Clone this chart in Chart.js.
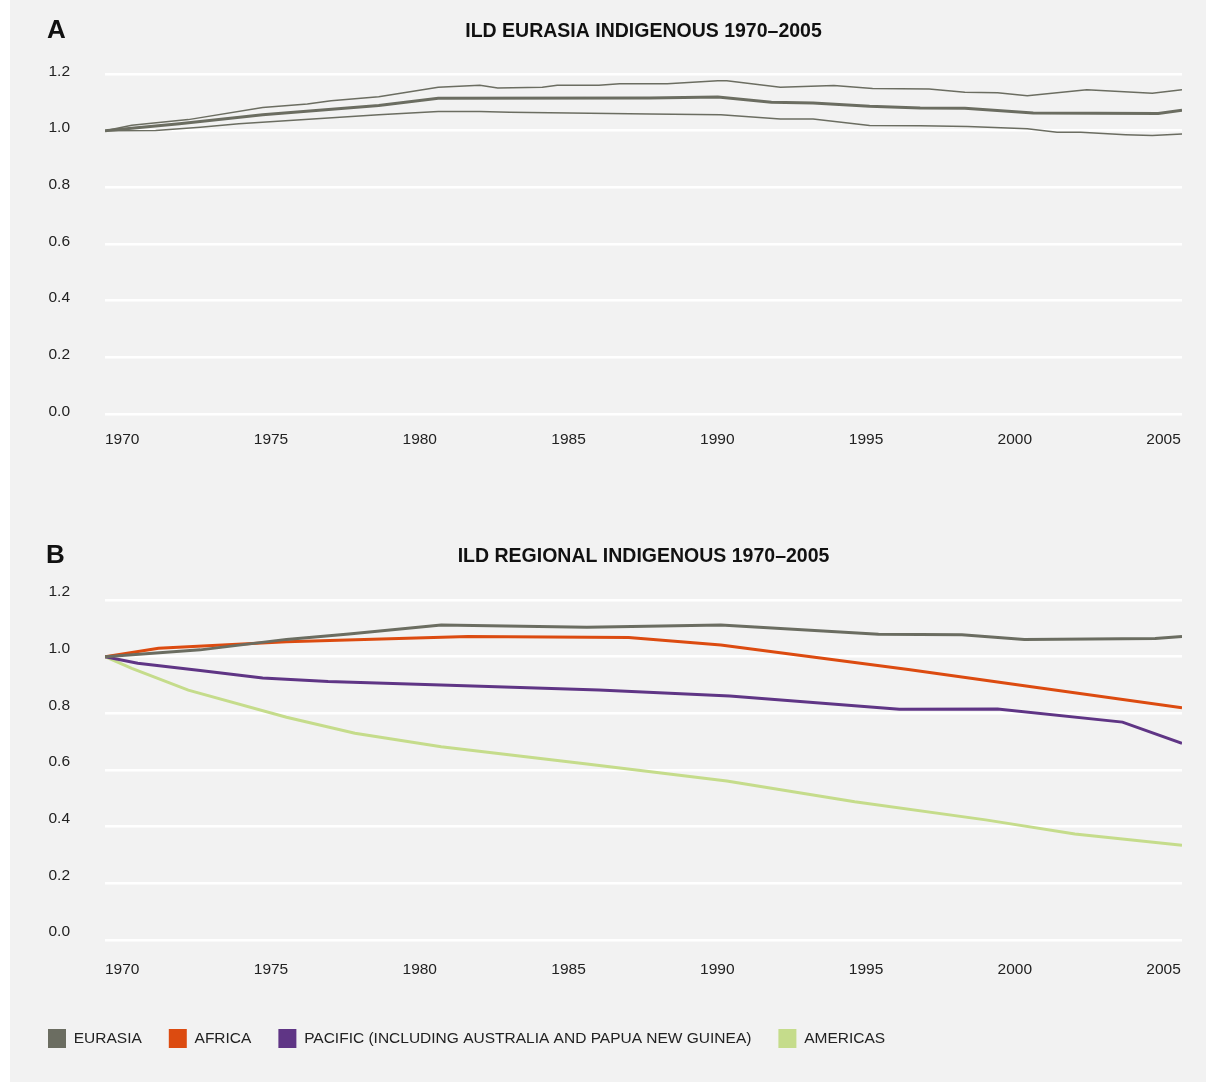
<!DOCTYPE html>
<html lang="en">
<head>
    <meta charset="UTF-8">
    <title>ILD Indigenous 1970–2005</title>
    <script src="https://cdn.jsdelivr.net/npm/chart.js@4.4.1/dist/chart.umd.min.js"></script>
    <style>
        body {
            margin: 0;
            background: #ffffff;
            font-family: "Liberation Sans", Arial, sans-serif;
        }
        #panel {
            position: absolute;
            left: 10px;
            top: 0;
            width: 1196px;
            height: 1082px;
            background: #f2f2f2;
        }
        .letter {
            position: absolute;
            font-size: 26px;
            font-weight: bold;
            line-height: 1;
            color: #111;
        }
        canvas {
            position: absolute;
            left: 0;
        }
    </style>
</head>
<body>
<div id="panel">
    <canvas id="chartA" width="1196" height="480" style="top:0"></canvas>
    <canvas id="chartB" width="1196" height="562" style="top:520px"></canvas>
    <div class="letter" style="left:37px; top:16px">A</div>
    <div class="letter" style="left:36px; top:541px">B</div>
</div>

<script>
    // Panel A: Eurasia index with upper / lower band
    const eurasiaMeanYears  = [1970, 1972.5, 1975.3, 1979.2, 1981.2, 1988.3, 1990.6, 1992.4, 1993.8, 1995.7, 1997.4, 1998.9, 2001.2, 2005.4, 2006.2];
    const eurasiaMeanValues = [1.0, 1.024, 1.056, 1.089, 1.114, 1.115, 1.119, 1.1, 1.098, 1.086, 1.08, 1.079, 1.062, 1.061, 1.072];

    const eurasiaUpperYears  = [1970, 1970.9, 1972.8, 1975.3, 1976.8, 1977.6, 1979.2, 1981.2, 1982.6, 1983.2, 1984.7, 1985.2, 1986.6, 1987.3, 1988.9, 1990.6, 1990.9, 1992.7, 1994.5, 1995.8, 1997.7, 1998.9, 2000.0, 2001.0, 2003.0, 2005.2, 2006.2];
    const eurasiaUpperValues = [1.0, 1.019, 1.039, 1.082, 1.094, 1.106, 1.12, 1.153, 1.16, 1.151, 1.153, 1.16, 1.16, 1.166, 1.166, 1.176, 1.176, 1.153, 1.159, 1.149, 1.147, 1.136, 1.134, 1.123, 1.144, 1.132, 1.144];

    const eurasiaLowerYears  = [1970, 1971.7, 1973.2, 1974.5, 1979.2, 1981.2, 1982.6, 1983.6, 1988.3, 1990.7, 1992.7, 1993.8, 1995.7, 1997.4, 1999.0, 2001.0, 2002.0, 2002.8, 2004.3, 2005.2, 2006.2];
    const eurasiaLowerValues = [1.0, 1.001, 1.012, 1.024, 1.056, 1.068, 1.068, 1.065, 1.059, 1.056, 1.041, 1.041, 1.018, 1.017, 1.015, 1.007, 0.994, 0.994, 0.986, 0.983, 0.988];

    // Panel B: regional indices
    const regionNames = ['EURASIA', 'AFRICA', 'PACIFIC (INCLUDING AUSTRALIA AND PAPUA NEW GUINEA)', 'AMERICAS'];
    const regionColors = ['#6b6d61', '#dc4b10', '#5f3585', '#c5dc8b'];

    const eurasiaYears  = [1970, 1973.2, 1976.1, 1978.2, 1981.3, 1986.2, 1990.7, 1996.0, 1998.8, 2000.9, 2005.3, 2006.2];
    const eurasiaValues = [1.0, 1.024, 1.061, 1.08, 1.112, 1.104, 1.112, 1.079, 1.077, 1.061, 1.064, 1.071];

    const africaYears  = [1970, 1971.8, 1976.1, 1982.2, 1987.6, 1990.7, 1997.0, 2000.9, 2006.2];
    const africaValues = [1.0, 1.03, 1.053, 1.071, 1.068, 1.041, 0.955, 0.897, 0.82];

    const pacificYears  = [1970, 1971.1, 1973.2, 1975.3, 1977.5, 1981.3, 1986.6, 1991.0, 1996.7, 2000.0, 2004.2, 2006.2];
    const pacificValues = [1.0, 0.977, 0.951, 0.925, 0.912, 0.9, 0.882, 0.861, 0.814, 0.815, 0.769, 0.694];

    const americasYears  = [1970, 1970.9, 1972.8, 1976.1, 1978.4, 1981.3, 1986.2, 1990.9, 1995.2, 1999.6, 2002.6, 2006.2];
    const americasValues = [1.0, 0.959, 0.882, 0.786, 0.73, 0.682, 0.621, 0.561, 0.488, 0.424, 0.374, 0.334];

    const yearTicks = [1970, 1975, 1980, 1985, 1990, 1995, 2000, 2005];

    Chart.defaults.font.family = '"Liberation Sans", Arial, sans-serif';
    Chart.defaults.color = '#222';

    function toPoints(years, values) {
        return years.map((yr, i) => ({ x: yr, y: values[i] }));
    }

    function lineSet(label, years, values, color, width) {
        return {
            label: label,
            data: toPoints(years, values),
            borderColor: color,
            backgroundColor: color,
            borderWidth: width,
            pointRadius: 0,
            tension: 0
        };
    }

    // shared layout for both panels
    function makeOptions(cfg) {
        return {
            responsive: false,
            animation: false,
            layout: {
                padding: { left: 11, right: 24, top: 0, bottom: cfg.bottomPad }
            },
            scales: {
                x: {
                    type: 'linear',
                    min: 1970,
                    max: 2006.2,
                    grid: { display: false },
                    border: { display: false },
                    afterBuildTicks: (scale) => {
                        scale.ticks = yearTicks.map(v => ({ value: v }));
                    },
                    afterFit: (scale) => { scale.height = cfg.xHeight; },
                    ticks: {
                        align: 'start',
                        padding: cfg.xPad,
                        maxRotation: 0,
                        font: { size: 15.5 },
                        callback: (v) => String(v)
                    }
                },
                y: {
                    min: 0,
                    max: 1.2,
                    grid: { color: '#ffffff', lineWidth: 2.5, drawTicks: false },
                    border: { display: false },
                    afterFit: (scale) => { scale.width = 84; },
                    ticks: {
                        stepSize: 0.2,
                        padding: 35,
                        labelOffset: cfg.yOffset,
                        font: { size: 15.5 },
                        callback: (v) => v.toFixed(1)
                    }
                }
            },
            plugins: {
                title: {
                    display: true,
                    text: cfg.title,
                    fullSize: false,
                    color: '#111',
                    font: { size: 19.5, weight: 'bold' },
                    padding: { top: cfg.titleTop, bottom: cfg.titleBottom }
                },
                legend: cfg.legend,
                tooltip: { enabled: false }
            }
        };
    }

    new Chart(document.getElementById('chartA'), {
        type: 'line',
        data: {
            datasets: [
                lineSet('Upper', eurasiaUpperYears, eurasiaUpperValues, regionColors[0], 1.5),
                lineSet('Lower', eurasiaLowerYears, eurasiaLowerValues, regionColors[0], 1.5),
                lineSet('Eurasia', eurasiaMeanYears, eurasiaMeanValues, regionColors[0], 3)
            ]
        },
        options: makeOptions({
            title: 'ILD EURASIA INDIGENOUS 1970–2005',
            titleTop: 20.3,
            titleBottom: 30.3,
            xHeight: 66,
            xPad: 8,
            yOffset: -2.5,
            bottomPad: 0,
            legend: { display: false }
        })
    });

    new Chart(document.getElementById('chartB'), {
        type: 'line',
        data: {
            datasets: [
                lineSet(regionNames[0], eurasiaYears, eurasiaValues, regionColors[0], 3),
                lineSet(regionNames[1], africaYears, africaValues, regionColors[1], 3),
                lineSet(regionNames[2], pacificYears, pacificValues, regionColors[2], 3),
                lineSet(regionNames[3], americasYears, americasValues, regionColors[3], 3)
            ]
        },
        options: makeOptions({
            title: 'ILD REGIONAL INDIGENOUS 1970–2005',
            titleTop: 25.3,
            titleBottom: 31.3,
            xHeight: 62,
            xPad: 12,
            yOffset: -8,
            bottomPad: 24,
            legend: {
                display: true,
                position: 'bottom',
                align: 'start',
                labels: {
                    boxWidth: 18,
                    boxHeight: 19,
                    padding: 27,
                    color: '#222',
                    font: { size: 15.5 },
                    generateLabels: (chart) => Chart.defaults.plugins.legend.labels.generateLabels(chart)
                        .map(item => Object.assign(item, { lineWidth: 0 }))
                }
            }
        })
    });
</script>
</body>
</html>
